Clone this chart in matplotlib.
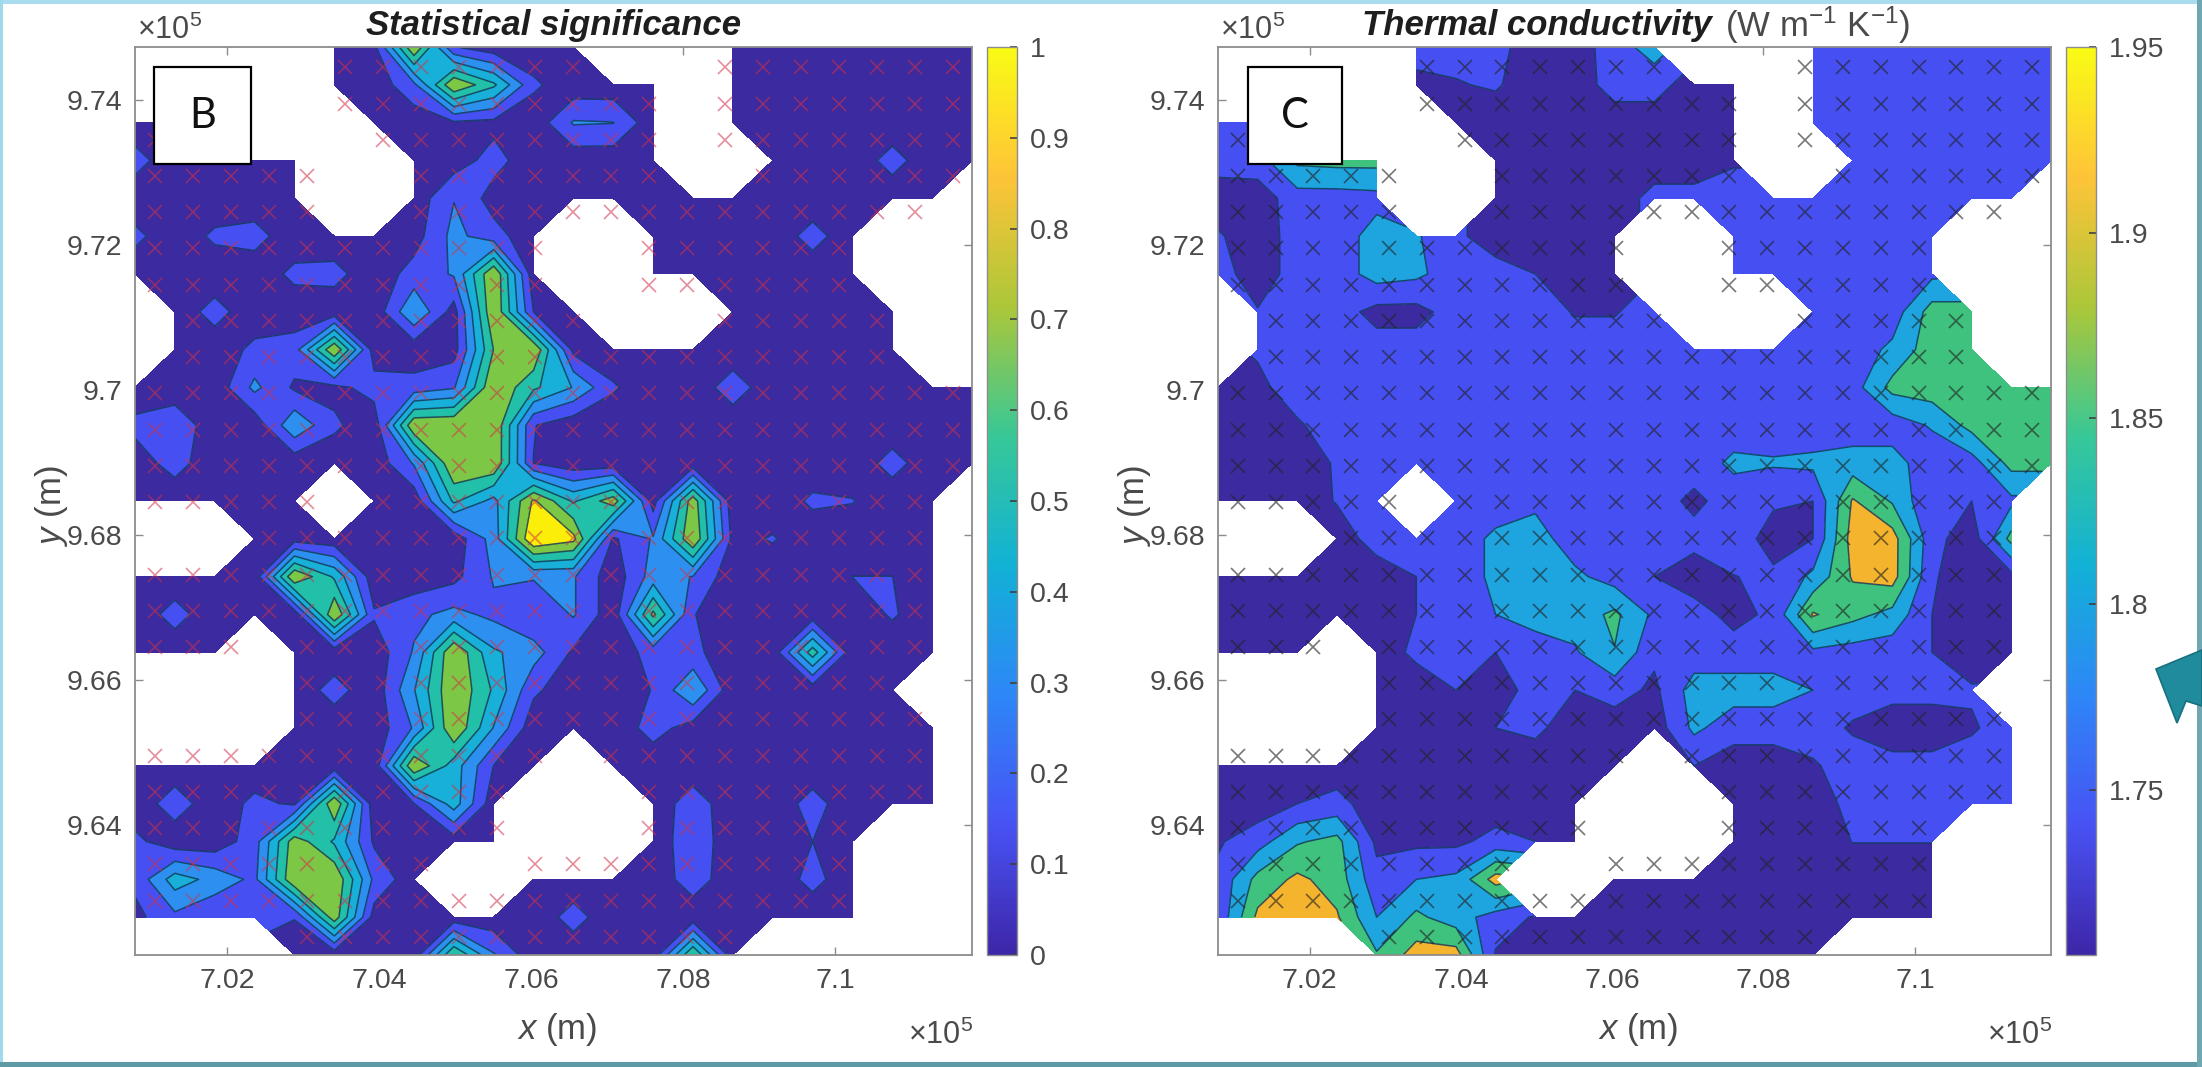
import numpy as np
import matplotlib
matplotlib.use("Agg")
import matplotlib.pyplot as plt
from matplotlib.colors import LinearSegmentedColormap, Normalize
from matplotlib.cm import ScalarMappable
from matplotlib.patches import Polygon, Rectangle

plt.rcParams['font.family'] = ['Liberation Sans', 'DejaVu Sans']
plt.rcParams['mathtext.fontset'] = 'custom'
plt.rcParams['mathtext.rm'] = 'Liberation Sans'
plt.rcParams['mathtext.it'] = 'Liberation Sans:italic'
plt.rcParams['mathtext.bf'] = 'Liberation Sans:bold'

N = np.nan
B = 1.765
P = 1.72
a = 0.05

# Statistical significance, rows from the top of the map
significance = [
 [N,N,N,N,N,a,.1,.85,.15,a,a,a,N,N,N,a,a,a,a,a,a,a],
 [N,N,N,N,N,a,a,.25,.85,.6,.17,a,a,a,N,a,a,a,a,a,a,a],
 [a,a,N,N,N,N,a,a,.12,.1,a,.3,.29,a,N,a,a,a,a,a,a,a],
 [.2,a,a,a,a,N,N,.07,.07,.2,a,a,a,a,N,N,a,a,a,.2,a,a],
 [a,a,a,a,a,N,N,a,.28,.08,a,a,a,a,a,a,a,a,a,a,a,N],
 [.18,a,.17,.2,a,a,a,.08,.33,.2,a,N,N,a,a,a,a,.2,a,N,N,N],
 [a,a,a,a,.18,.19,a,.2,.3,.85,a,N,N,a,a,a,a,a,a,N,N,N],
 [N,a,.2,a,a,a,a,.42,.08,.85,.14,a,N,N,N,a,a,a,a,a,N,N],
 [N,a,a,.18,.22,.85,.07,a,.08,.72,.85,.1,a,a,a,a,a,a,a,a,N,N],
 [a,a,a,.32,.12,.1,.2,.2,.27,.85,.6,.42,.16,a,a,.22,a,a,a,a,a,a],
 [.18,.25,a,a,.4,.17,a,.84,.85,.85,.15,a,a,a,a,a,a,a,a,a,a,a],
 [.07,.2,a,a,a,a,a,.3,.85,.85,.14,a,a,a,a,a,a,a,a,.2,a,a],
 [a,a,a,a,a,N,a,a,.6,.38,.88,.55,.8,.08,.8,a,a,.17,.15,a,a,N],
 [N,N,N,a,.08,a,a,a,a,.35,1.0,.9,.12,.3,.85,.1,.155,a,a,a,a,N],
 [a,a,a,a,.85,.55,a,a,.1,.3,.3,.3,a,.35,.28,a,a,a,.144,.144,a,N],
 [a,.2,a,a,a,.85,.16,.25,.33,.25,.15,.3,a,.75,.15,a,a,a,a,.16,a,N],
 [a,a,a,N,a,a,a,.3,.85,.45,.35,.12,a,.2,.18,a,a,.65,a,a,a,N],
 [N,N,N,N,a,.2,a,.42,.85,.55,.17,a,a,.15,.42,a,a,a,a,a,N,N],
 [N,N,N,N,a,a,a,.3,.85,.42,a,a,a,.2,.08,a,a,a,a,a,a,N],
 [a,a,a,a,a,a,a,.85,.5,.14,a,N,a,a,a,a,a,a,a,a,a,N],
 [a,.22,a,.18,.12,.85,a,.14,.5,a,N,N,N,a,.22,a,a,.2,a,a,a,N],
 [.18,a,a,.22,.8,.55,.12,a,.07,a,N,N,N,a,.24,a,a,.143,a,N,N,N],
 [.18,.5,.38,.25,.85,.85,.25,a,N,N,a,a,a,a,.22,a,a,.19,a,N,N,N],
 [.1,.25,.15,.2,.15,.8,.08,a,a,a,a,.2,a,a,a,a,a,a,a,N,N,N],
 [N,N,N,N,a,a,a,a,.72,.3,a,a,a,a,.72,a,N,N,N,N,N,N],
]

# Thermal conductivity (W m-1 K-1), rows from the top of the map
conductivity = [
 [N,N,N,N,N,1.76,1.76,1.76,P,P,1.77,1.81,N,N,N,B,B,B,B,B,B,B],
 [N,N,N,N,N,1.735,1.742,1.75,P,P,B,B,P,P,N,B,B,B,B,B,B,B],
 [B,B,N,N,N,N,P,P,P,P,P,P,P,P,N,B,B,B,B,B,B,B],
 [B,1.77,1.845,1.85,1.85,N,N,P,P,P,P,P,P,1.74,N,N,B,B,B,B,B,B],
 [P,P,1.77,1.77,1.775,N,N,P,P,P,P,1.76,1.76,B,B,B,B,B,B,B,B,N],
 [1.75,P,B,B,1.81,1.795,1.755,P,P,P,P,N,N,B,B,B,B,B,B,N,N,N],
 [B,P,B,B,1.81,1.80,B,B,1.745,P,P,N,N,B,B,B,B,B,1.78,N,N,N],
 [N,1.748,B,B,1.73,1.73,B,B,B,1.742,1.742,B,N,N,N,B,B,B,1.855,1.855,N,N],
 [N,1.75,B,B,B,B,B,B,B,B,B,B,B,B,B,B,B,1.80,1.86,1.86,N,N],
 [P,1.735,B,B,B,B,B,B,B,B,B,B,B,B,B,B,1.77,1.85,1.86,1.86,1.86,1.86],
 [P,P,1.74,B,B,B,B,B,B,B,B,B,B,B,B,B,B,B,1.795,1.85,1.87,1.87],
 [P,P,P,1.75,B,B,B,B,B,B,B,B,B,1.80,1.795,1.80,1.81,1.81,1.76,1.77,1.85,1.85],
 [P,P,P,1.748,B,N,B,B,1.78,B,B,B,1.735,B,1.75,1.745,1.885,1.83,1.75,1.745,1.78,N],
 [N,N,N,P,B,B,B,1.80,1.81,B,B,B,1.76,B,1.73,1.745,1.90,1.90,1.76,P,1.85,N],
 [P,P,P,P,P,1.745,B,1.80,1.81,1.80,1.77,1.745,P,1.744,1.752,1.80,1.885,1.90,1.75,P,1.73,N],
 [P,P,P,P,P,1.745,B,1.79,1.81,1.81,1.845,1.78,B,1.73,1.755,1.885,1.85,1.82,1.745,P,P,N],
 [P,P,P,N,P,1.755,B,1.745,B,1.785,1.833,1.755,B,B,B,1.78,1.77,B,1.745,P,P,N],
 [N,N,N,N,P,P,1.745,P,B,1.745,B,1.735,1.81,1.81,1.81,1.79,B,1.76,1.76,1.75,N,N],
 [N,N,N,N,P,P,P,1.745,1.755,P,P,P,1.80,B,B,B,1.74,P,P,1.74,B,N],
 [P,P,P,P,P,P,P,P,P,P,P,N,1.745,P,P,1.74,B,1.76,1.76,B,B,N],
 [P,P,1.745,1.76,P,P,P,P,P,P,N,N,N,P,P,P,1.76,B,B,B,B,N],
 [1.74,1.77,1.83,1.85,1.735,1.735,1.735,1.76,1.745,P,N,N,N,P,P,P,1.746,1.746,1.746,N,N,N],
 [1.755,1.85,1.89,1.86,1.76,1.79,1.80,1.90,N,N,P,P,P,P,P,P,P,P,P,N,N,N],
 [1.755,1.89,1.91,1.885,1.79,1.845,1.81,1.77,1.74,P,P,P,P,P,P,P,P,P,P,N,N,N],
 [N,N,N,N,1.84,1.90,1.90,1.74,P,P,P,P,P,P,P,P,N,N,N,N,N,N],
]

x_ticks = [7.02, 7.04, 7.06, 7.08, 7.1]
x_tick_labels = ['7.02', '7.04', '7.06', '7.08', '7.1']
y_ticks = [9.64, 9.66, 9.68, 9.70, 9.72, 9.74]
y_tick_labels = ['9.64', '9.66', '9.68', '9.7', '9.72', '9.74']
sig_cbar_ticks = [0, .1, .2, .3, .4, .5, .6, .7, .8, .9, 1]
sig_cbar_labels = ['0', '0.1', '0.2', '0.3', '0.4', '0.5', '0.6', '0.7', '0.8', '0.9', '1']
k_cbar_ticks = [1.75, 1.8, 1.85, 1.9, 1.95]
k_cbar_labels = ['1.75', '1.8', '1.85', '1.9', '1.95']

parula = LinearSegmentedColormap.from_list('parula', [
    (0.2422, 0.1504, 0.6603), (0.2810, 0.3228, 0.9579), (0.1786, 0.5289, 0.9682),
    (0.0689, 0.6948, 0.8394), (0.2161, 0.7843, 0.5923), (0.6720, 0.7793, 0.2227),
    (0.9970, 0.7659, 0.2199), (0.9769, 0.9839, 0.0805)])

sig_levels = [0, 1/7, 2/7, 3/7, 4/7, 5/7, 6/7, 1.01]
sig_colors = ['#3c2ba0', '#4650f2', '#2d90f0', '#18b0d8', '#22c0a8', '#7cc745', '#fbee08']
k_levels = [1.70, 1.745, 1.79, 1.835, 1.88, 1.95]
k_colors = ['#3c2ba0', '#4650f2', '#1ea5e0', '#3fc27e', '#f5b42e']

W, H = 2202, 1067
fig = plt.figure(figsize=(W/100, H/100), dpi=100, facecolor='white')

def fx(p):
    return p / W

def fy(p):
    return 1 - p / H

def box(l, r, t, b):
    return [fx(l), fy(b), (r - l) / W, (b - t) / H]

TXT = '#4a4a4a'
AX = '#8c8c8c'

def panel(values, levels, colors, ax_l, ax_r, cb_l, cb_r, vmin, vmax, cb_ticks, cb_labels,
          cross, label, box_l, box_r):
    ax = fig.add_axes(box(ax_l, ax_r, 47, 955))
    Z = np.array(values, dtype=float)
    nr, nc = Z.shape
    x0, x1, y0, y1 = 7.0079, 7.1180, 9.6220, 9.7473
    xn = np.linspace(x0, x1, nc)
    yn = np.linspace(y1, y0, nr)
    ax.set_axisbelow(True)
    ax.contourf(xn, yn, np.ma.masked_invalid(Z), levels=levels, colors=colors, corner_mask=True)
    ax.contour(xn, yn, np.ma.masked_invalid(Z), levels=levels[1:-1], colors='#123a5a', linewidths=1.1,
               corner_mask=True, alpha=.85)
    xc = 7.0105 + 0.005 * np.arange(nc)
    yc = 9.7445 - 0.005 * np.arange(nr)
    XC, YC = np.meshgrid(xc, yc)
    ok = np.isfinite(Z)
    ax.plot(XC[ok], YC[ok], ls='none', marker='x', ms=9.5, mew=1.2, color=cross[0], alpha=cross[1], zorder=3)
    ax.set_xlim(x0, x1)
    ax.set_ylim(y0, y1)
    ax.set_xticks(x_ticks, x_tick_labels)
    ax.set_yticks(y_ticks, y_tick_labels)
    ax.tick_params(axis='both', which='both', direction='in', length=6, width=1, color=AX,
                   labelsize=20.5, labelcolor=TXT, top=True, right=True, pad=9)
    for s in ax.spines.values():
        s.set_color(AX)
        s.set_linewidth(1.3)
        s.set_zorder(5)
    cax = fig.add_axes(box(cb_l, cb_r, 47, 955))
    cb = fig.colorbar(ScalarMappable(Normalize(vmin, vmax), parula), cax=cax)
    cb.set_ticks(cb_ticks, labels=cb_labels)
    cb.ax.tick_params(direction='in', length=5, width=1.2, color='#404040', labelsize=20.5,
                      labelcolor=TXT, pad=9)
    cb.outline.set_edgecolor(AX)
    cb.outline.set_linewidth(1.0)
    fig.add_artist(Rectangle((fx(box_l), fy(164)), (box_r - box_l) / W, 97 / H, transform=fig.transFigure,
                             fc='white', ec='black', lw=1.6, zorder=10))
    fig.text(fx((box_l + box_r) / 2), fy(116), label, fontsize=30, family='Lato', color='#111111',
             ha='center', va='center', zorder=11)
    fig.text(fx(ax_l + 2), fy(30), r'$\times$10$^{5}$', fontsize=22, color=TXT, ha='left', va='center')
    fig.text(fx(ax_r + 1), fy(1035), r'$\times$10$^{5}$', fontsize=22, color=TXT, ha='right', va='center')
    fig.text(fx((ax_l + ax_r) / 2 + 4), fy(1030), r'$\mathit{x}$ (m)', fontsize=25, color=TXT, ha='center', va='center')
    fig.text(fx(ax_l - 84), fy(505), r'$\mathit{y}$ (m)', fontsize=25, color=TXT, rotation=90, ha='center', va='center')
    return ax

panel(significance, sig_levels, sig_colors, 135, 972, 987, 1017, 0, 1, sig_cbar_ticks, sig_cbar_labels,
      ('#d23048', .55), 'B', 154, 251)
panel(conductivity, k_levels, k_colors, 1218, 2051, 2066, 2096, 1.7055, 1.95, k_cbar_ticks, k_cbar_labels,
      ('#222222', .62), 'C', 1248, 1342)

fig.text(fx(554), fy(25), 'Statistical significance', fontsize=25, style='italic', weight='bold',
         color='#1e1e1e', ha='center', va='center')
fig.text(fx(1362), fy(25), 'Thermal conductivity', fontsize=25, style='italic', weight='bold',
         color='#1e1e1e', ha='left', va='center')
fig.text(fx(1725), fy(25), r'(W m$^{-1}$ K$^{-1}$)', fontsize=25, color=TXT, ha='left', va='center')

for (l, t, w, h, c) in [(0, 0, W, 4, '#a8dcee'), (0, 0, 3, H, '#a0d8ee'),
                        (0, H - 5, W, 5, '#5d9aa6'), (W - 5, 0, 5, H, '#6fa8b2')]:
    fig.add_artist(Rectangle((l / W, 1 - (t + h) / H), w / W, h / H, transform=fig.transFigure,
                             fc=c, ec='none', zorder=20))
pts = [(2156, 669), (2202, 650), (2202, 706), (2186, 701), (2177, 723)]
fig.add_artist(Polygon([(fx(p), fy(q)) for p, q in pts], closed=True, transform=fig.transFigure,
                       fc='#1f8b9c', ec='#17707f', lw=1.2, zorder=21))

fig.savefig('out.png', dpi=100)
